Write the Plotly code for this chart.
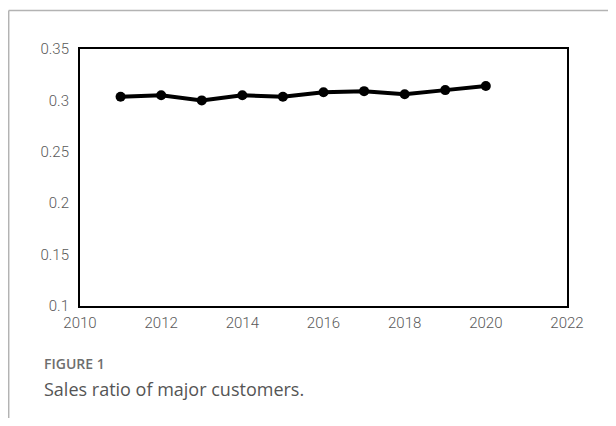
import plotly.graph_objects as go

years = [2011, 2012, 2013, 2014, 2015, 2016, 2017, 2018, 2019, 2020]
sales_ratio = [0.3036, 0.305, 0.300, 0.305, 0.3036, 0.308, 0.309, 0.306, 0.310, 0.314]

# The page body adds an 8px margin, so the figure is laid out in page px - 8.
W, H = 600, 410
L, R, T, B = 72, 41, 41, 112
pw, ph = W - L - R, H - T - B

def px(x):
    return (x - L) / pw

def py(y):
    return (H - B - y) / ph

tick_font = dict(family="Roboto", size=15, color="#595959", weight=300)

fig = go.Figure()
fig.add_trace(go.Scatter(
    x=years, y=sales_ratio, mode="lines+markers",
    line=dict(color="black", width=4),
    marker=dict(color="black", size=10),
    showlegend=False, hoverinfo="x+y",
))

fig.update_layout(
    width=W, height=H,
    margin=dict(l=L, r=R, t=T, b=B),
    paper_bgcolor="white", plot_bgcolor="white",
    xaxis=dict(range=[2010, 2022], dtick=2, tick0=2010, showgrid=False, zeroline=False,
               showline=True, linecolor="black", linewidth=2, mirror=True,
               ticks="", tickfont=tick_font, ticklabelstandoff=2),
    yaxis=dict(range=[0.1, 0.35], dtick=0.05, tick0=0.1, showgrid=False, zeroline=False,
               showline=True, linecolor="black", linewidth=2, mirror=True,
               ticks="", tickfont=tick_font, ticklabelstandoff=6),
    shapes=[
        dict(type="line", xref="paper", yref="paper", x0=px(0.7), x1=px(W + 5), y0=py(2.5), y1=py(2.5),
             line=dict(color="#b3b3b3", width=1.5)),
        dict(type="line", xref="paper", yref="paper", x0=px(0.7), x1=px(0.7), y0=py(2.5), y1=py(H + 5),
             line=dict(color="#b3b3b3", width=1.5)),
    ],
    annotations=[
        dict(text="FIGURE 1", xref="paper", yref="paper", x=px(34), y=py(355),
             xanchor="left", yanchor="middle", showarrow=False,
             font=dict(family="Open Sans", size=14, color="#6e6e6e", weight=600)),
        dict(text="Sales ratio of major customers.", xref="paper", yref="paper", x=px(34), y=py(381),
             xanchor="left", yanchor="middle", showarrow=False,
             font=dict(family="Open Sans", size=18, color="#555555")),
    ],
)

fig.write_html("out.html")
